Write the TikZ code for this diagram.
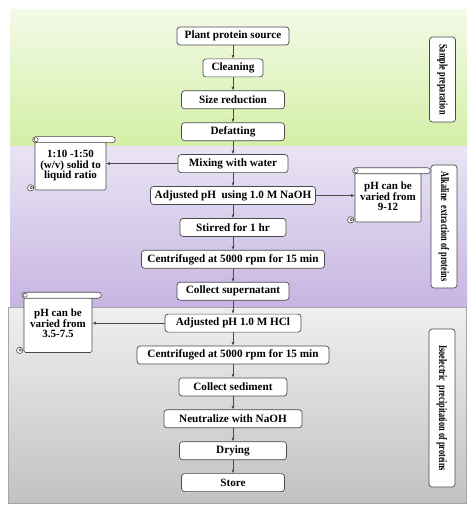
\documentclass[tikz,border=0pt]{standalone}
\usepackage{fontspec}
\setmainfont{Liberation Serif}
\usepackage{graphicx}
\usetikzlibrary{arrows.meta,positioning,calc}
\usepackage{xcolor}

\definecolor{prepTop}{HTML}{F3FAE7}
\definecolor{prepBot}{HTML}{D3EFA5}
\definecolor{alkTop}{HTML}{E9E4F4}
\definecolor{alkBot}{HTML}{C7B5E2}
\definecolor{isoTop}{HTML}{EFEFEF}
\definecolor{isoBot}{HTML}{C2C2C2}
\definecolor{edge}{HTML}{4A4A4A}

% top roll and bottom curl of a scroll note
\newcommand{\scrollrolls}[1]{%
  \draw[edge, line width=0.6pt, fill=white, rounded corners=3pt]
    ($(#1.north west)+(-2,-5)$) rectangle ($(#1.north east)+(9,1)$);
  \draw[edge, line width=0.5pt, fill=white] ($(#1.north west)+(1.5,-2)$) circle (2pt);
  \draw[edge, line width=0.6pt, fill=white] ($(#1.south west)+(-4,-2.5)$) circle (3.2pt);
  \draw[edge, line width=0.5pt] ($(#1.south west)+(-3.5,-2.8)$) circle (1.3pt);
}
% centred lines of a scroll note
\newcommand{\notelines}[1]{\renewcommand{\arraystretch}{0.8}\begin{tabular}{@{}c@{}}#1\end{tabular}}

\begin{document}
\begin{tikzpicture}[
            x=1pt, y=-1pt,
            node distance=13.2pt,
            box/.style={rectangle, draw=edge, rounded corners=3pt, align=center, minimum height=18pt, inner sep=2pt, fill=white, line width=0.7pt, font=\bfseries\fontsize{11.2}{12}\selectfont},
            note/.style={rectangle, draw=edge, rounded corners=1.5pt, inner sep=1pt, fill=white, line width=0.6pt, font=\bfseries\fontsize{11}{12}\selectfont},
            phase/.style={rectangle, draw=edge, rounded corners=3pt, rotate=-90, minimum height=26pt, inner sep=1pt, fill=white, line width=0.7pt, font=\bfseries\fontsize{11.5}{12}\selectfont},
            arrow/.style={-{Latex[length=3.5pt,width=3pt]}, draw=edge, line width=0.6pt}
        ]
            \useasboundingbox (0,0) rectangle (474,513);

            % --- FUNDOS DAS ETAPAS ---
            \shade[top color=prepTop, bottom color=prepBot] (10,10) rectangle (467,147);
            \shade[top color=alkTop, bottom color=alkBot] (10,147) rectangle (467,307);
            \shade[top color=isoTop, bottom color=isoBot, draw=gray!70] (8,307) rectangle (466,503);

            % --- PREPARO DA AMOSTRA ---
            \node[box, minimum width=112pt] (source) at (233,36) {Plant protein source};
            \node[box, minimum width=60pt, below=of source] (cleaning) {Cleaning};
            \node[box, minimum width=103pt, below=of cleaning] (size) {Size reduction};
            \node[box, minimum width=103pt, below=of size] (defat) {Defatting};

            % --- EXTRACAO ALCALINA ---
            \node[box, minimum width=110pt, below=of defat] (mixing) {Mixing with water};
            \node[box, minimum width=165pt, below=of mixing] (naoh) {Adjusted pH \ using 1.0 M NaOH};
            \node[box, minimum width=106pt, below=of naoh] (stirred) {Stirred for 1 hr};
            \node[box, minimum width=183pt, below=of stirred] (centA) {Centrifuged at 5000 rpm for 15 min};
            \node[box, minimum width=112pt, below=of centA] (super) {Collect supernatant};

            % --- PRECIPITACAO ISOELETRICA ---
            \node[box, minimum width=136pt, below=of super] (hcl) {Adjusted pH 1.0 M HCl};
            \node[box, minimum width=192pt, below=of hcl] (centB) {Centrifuged at 5000 rpm for 15 min};
            \node[box, minimum width=108pt, below=of centB] (sediment) {Collect sediment};
            \node[box, minimum width=138pt, below=of sediment] (neutral) {Neutralize with NaOH};
            \node[box, minimum width=107pt, below=of neutral] (drying) {Drying};
            \node[box, minimum width=103pt, below=of drying] (store) {Store};

            % --- NOTAS (pergaminhos) ---
            \node[note, minimum width=71pt, minimum height=48pt] (ratio) at (70.5,166) {\notelines{1:10 -1:50\\(w/v) solid to\\liquid ratio}};
            \scrollrolls{ratio}
            \node[note, minimum width=66pt, minimum height=49pt] (phAlk) at (388,197.5) {\notelines{pH can be\\varied from\\9-12}};
            \scrollrolls{phAlk}
            \node[note, minimum width=68pt, minimum height=55pt] (phIso) at (58,325) {\notelines{pH can be\\varied from\\3.5-7.5}};
            \scrollrolls{phIso}

            % --- ROTULOS DAS ETAPAS ---
            \node[phase, minimum width=85pt] (labPrep) at (442.5,79.5) {\scalebox{0.72}[1]{Sample preparation}};
            \node[phase, minimum width=123pt] (labAlk) at (444,226.5) {\scalebox{0.72}[1]{Alkaline \ extraction of proteins}};
            \node[phase, minimum width=158pt] (labIso) at (442,408) {\scalebox{0.72}[1]{Isoelectric \ precipitation of proteins}};

            % --- LIGACOES ---
            \foreach \a/\b in {source/cleaning, cleaning/size, size/defat, defat/mixing,
                               mixing/naoh, naoh/stirred, stirred/centA, centA/super,
                               super/hcl, hcl/centB, centB/sediment, sediment/neutral,
                               neutral/drying, drying/store}
                \draw[arrow] (\a.south) -- (\b.north);

            \draw[arrow] (mixing.west) -- (mixing.west -| ratio.east);
            \draw[arrow] (naoh.east) -- (naoh.east -| phAlk.west);
            \draw[arrow] (hcl.west) -- (hcl.west -| phIso.east);

        \end{tikzpicture}
\end{document}
